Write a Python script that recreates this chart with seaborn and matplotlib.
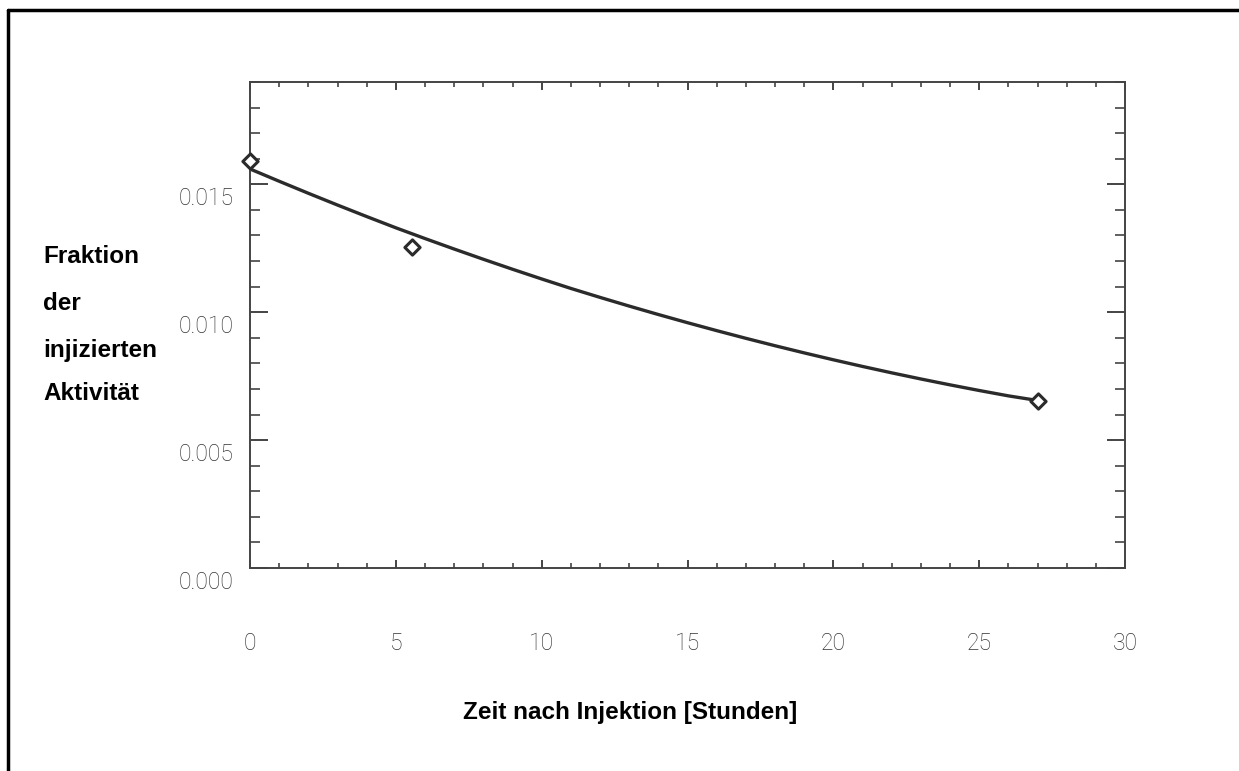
import matplotlib
matplotlib.use("Agg")
import matplotlib.pyplot as plt
import matplotlib.transforms as mtransforms
from matplotlib.lines import Line2D
from matplotlib.ticker import MultipleLocator, FormatStrFormatter
import seaborn as sns
import pandas as pd

# Measured data points
meas_hours = [0.0, 5.56, 27.0]
meas_fraction = [0.0159, 0.01254, 0.00654]

# Fitted curve (hourly)
fit_hours = list(range(0, 28))
fit_fraction = [0.01560, 0.01512, 0.01465, 0.01419, 0.01374, 0.01330, 0.01288,
                0.01247, 0.01207, 0.01168, 0.01130, 0.01093, 0.01058, 0.01024,
                0.00991, 0.00959, 0.00928, 0.00898, 0.00869, 0.00841, 0.00814,
                0.00788, 0.00763, 0.00739, 0.00716, 0.00694, 0.00673, 0.00655]

x_ticks = [0, 5, 10, 15, 20, 25, 30]
y_ticks = [0.000, 0.005, 0.010, 0.015]

xlabel = "Zeit nach Injektion [Stunden]"
ylabel_lines = ["Fraktion", "der", "injizierten", "Aktivität"]

sns.set_style("ticks")
plt.rcParams["font.family"] = ["Liberation Sans", "DejaVu Sans"]

W, H = 1239, 771
fig = plt.figure(figsize=(W / 100, H / 100), dpi=100)
ax = fig.add_axes([250 / W, 1 - 568 / H, (1125 - 250) / W, (568 - 82) / H])

df_fit = pd.DataFrame({"h": fit_hours, "f": fit_fraction})
df_meas = pd.DataFrame({"h": meas_hours, "f": meas_fraction})

sns.lineplot(data=df_fit, x="h", y="f", ax=ax, color="#2b2b2b", linewidth=2.4,
             estimator=None, sort=True)
sns.scatterplot(data=df_meas, x="h", y="f", ax=ax, marker="D", s=60,
                facecolor="white", edgecolor="#2b2b2b", linewidth=2.2,
                zorder=5, clip_on=False)

ax.set_xlim(0, 30)
ax.set_ylim(0, 0.019)
ax.set_xticks(x_ticks)
ax.set_yticks(y_ticks)
ax.xaxis.set_minor_locator(MultipleLocator(1))
ax.yaxis.set_minor_locator(MultipleLocator(0.001))
ax.yaxis.set_major_formatter(FormatStrFormatter("%.3f"))
ax.set_xlabel("")
ax.set_ylabel("")

for s in ax.spines.values():
    s.set_visible(True)
    s.set_color("#444444")
    s.set_linewidth(1.4)

ax.tick_params(axis="x", which="major", direction="in", length=6, width=1.4,
               color="#444444", top=True, pad=46, labelsize=16.5, labelcolor="#333333")
ax.tick_params(axis="x", which="minor", direction="in", length=3.5, width=1.2,
               color="#444444", top=True)
ax.tick_params(axis="y", which="major", direction="in", length=13, width=1.4,
               color="#444444", right=True, pad=12, labelsize=16.5, labelcolor="#333333")
ax.tick_params(axis="y", which="minor", direction="in", length=7.5, width=1.2,
               color="#444444", right=True)
for lbl in ax.get_xticklabels() + ax.get_yticklabels():
    lbl.set_fontfamily(["Roboto", "DejaVu Sans"])
    lbl.set_fontweight("light")

offset = mtransforms.ScaledTranslation(0, -12 / 100, fig.dpi_scale_trans)
for lbl in ax.get_yticklabels():
    lbl.set_transform(lbl.get_transform() + offset)

# Axis titles
fig.text(630 / W, 1 - 712 / H, xlabel, ha="center", va="center",
         fontsize=17.5, fontweight="bold", color="black")
baselines = [263, 310, 357, 400]
for txt, yb in zip(ylabel_lines, baselines):
    fig.text(43 / W, 1 - yb / H, txt, ha="left", va="baseline",
             fontsize=17.5, fontweight="bold", color="black")

# Outer frame (left and top edges)
fig.add_artist(Line2D([8 / W, 8 / W], [0, 1 - 10 / H], transform=fig.transFigure,
                      color="black", linewidth=2.5))
fig.add_artist(Line2D([8 / W, 1.0], [1 - 10 / H, 1 - 10 / H], transform=fig.transFigure,
                      color="black", linewidth=2.5))

fig.savefig("out.png", dpi=100, facecolor="white")
